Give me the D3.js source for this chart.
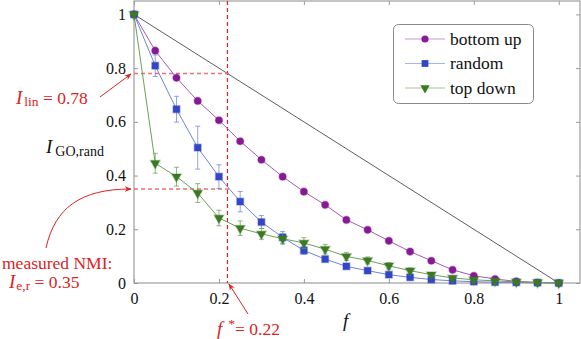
<!DOCTYPE html>
<html>
<head>
<meta charset="utf-8">
<script src="https://cdn.jsdelivr.net/npm/d3@7"></script>
<style>
  body { margin: 0; background: #fff; }
  svg text { font-family: "Liberation Serif", "DejaVu Serif", serif !important; }
</style>
</head>
<body>
<svg id="chart" width="581" height="339"></svg>
<script>
// fraction of edges f
var fValues = [0, 0.05, 0.1, 0.15, 0.2, 0.25, 0.3, 0.35, 0.4, 0.45, 0.5,
               0.55, 0.6, 0.65, 0.7, 0.75, 0.8, 0.85, 0.9, 0.95, 1];

var bottomUp = [1, 0.865, 0.764, 0.678, 0.606, 0.528, 0.459, 0.396, 0.34, 0.291, 0.235,
                0.198, 0.157, 0.117, 0.083, 0.049, 0.027, 0.015, 0.006, 0.002, 0];

var random = [1, 0.809, 0.647, 0.504, 0.396, 0.303, 0.227, 0.17, 0.121, 0.089, 0.062,
              0.046, 0.031, 0.021, 0.013, 0.008, 0.005, 0.003, 0.002, 0.001, 0];
var randomErr = [0, 0.04, 0.048, 0.08, 0.044, 0.038, 0.024, 0.022, 0.014, 0.01, 0.008,
                 0.007, 0.006, 0.005, 0.004, 0.003, 0.003, 0.002, 0.002, 0.001, 0];

var topDown = [1, 0.446, 0.396, 0.335, 0.242, 0.204, 0.183, 0.165, 0.149, 0.126, 0.099,
               0.084, 0.064, 0.046, 0.031, 0.019, 0.012, 0.008, 0.004, 0.002, 0];
var topDownErr = [0, 0.037, 0.035, 0.035, 0.029, 0.027, 0.02, 0.02, 0.02, 0.018, 0.015,
                  0.013, 0.012, 0.01, 0.008, 0.006, 0.005, 0.004, 0.003, 0.002, 0];

var tickValues = [0, 0.2, 0.4, 0.6, 0.8, 1];
var tickLabels = ["0", "0.2", "0.4", "0.6", "0.8", "1"];

var iLin = 0.78, iMeasured = 0.35, fStar = 0.22;

var svg = d3.select("#chart");
var x = d3.scaleLinear().domain([0, 1.05]).range([134, 580]);
var y = d3.scaleLinear().domain([0, 1.05]).range([283, 1]);
var red = "#dd2222";

// frame
svg.append("rect")
    .attr("x", x(0)).attr("y", y(1.05))
    .attr("width", x(1.05) - x(0)).attr("height", y(0) - y(1.05))
    .attr("fill", "none").attr("stroke", "#8a8a8a").attr("stroke-width", 1);

// ticks on all four sides, pointing inwards
var fmt = function (d, i) { return tickLabels[i]; };
function styleAxis(g) {
    g.select(".domain").remove();
    g.selectAll(".tick line").attr("stroke", "#9a9a9a");
    g.selectAll(".tick text").attr("font-size", 16).attr("fill", "#111");
}
svg.append("g").attr("transform", "translate(0," + y(0) + ")")
    .call(d3.axisBottom(x).tickValues(tickValues).tickFormat(fmt).tickSizeInner(-4).tickPadding(10))
    .call(styleAxis);
svg.append("g").attr("transform", "translate(0," + y(1.05) + ")")
    .call(d3.axisTop(x).tickValues(tickValues).tickFormat("").tickSizeInner(-4))
    .call(styleAxis);
svg.append("g").attr("transform", "translate(" + x(0) + ",0)")
    .call(d3.axisLeft(y).tickValues(tickValues).tickFormat(fmt).tickSizeInner(-4).tickPadding(8))
    .call(styleAxis);
svg.append("g").attr("transform", "translate(" + x(1.05) + ",0)")
    .call(d3.axisRight(y).tickValues(tickValues).tickFormat("").tickSizeInner(-4))
    .call(styleAxis);

// linear reference line
svg.append("line")
    .attr("x1", x(0)).attr("y1", y(1)).attr("x2", x(1)).attr("y2", y(0))
    .attr("stroke", "#333").attr("stroke-width", 0.8);

// dashed guides
svg.append("line")
    .attr("x1", x(fStar)).attr("x2", x(fStar)).attr("y1", y(1.05)).attr("y2", y(0))
    .attr("stroke", red).attr("stroke-width", 1.2).attr("stroke-dasharray", "4,3");
[iLin, iMeasured].forEach(function (v) {
    svg.append("line")
        .attr("x1", x(0)).attr("x2", x(fStar) + 2).attr("y1", y(v)).attr("y2", y(v))
        .attr("stroke", "#ec7070").attr("stroke-width", 1.3).attr("stroke-dasharray", "4,3");
});

var series = [
    { name: "bottom up", values: bottomUp, err: null, mark: "circle", color: "#861a94", line: "#a55aae" },
    { name: "random", values: random, err: randomErr, mark: "square", color: "#3346c8", line: "#7081de" },
    { name: "top down", values: topDown, err: topDownErr, mark: "triangle", color: "#3b7a22", line: "#6e9e5c" }
];

var symbols = {
    circle: d3.symbol().type(d3.symbolCircle).size(40),
    square: d3.symbol().type(d3.symbolSquare).size(46),
    triangle: d3.symbol().type(d3.symbolTriangle).size(38)
};

var line = d3.line().x(function (d) { return x(d[0]); }).y(function (d) { return y(d[1]); });

series.forEach(function (s) {
    var pts = fValues.map(function (f, i) { return [f, s.values[i], s.err ? s.err[i] : 0]; });
    svg.append("path").datum(pts).attr("d", line)
        .attr("fill", "none").attr("stroke", s.line).attr("stroke-width", 1);
    if (s.err) {
        var eb = svg.append("g").attr("stroke", s.line).attr("stroke-opacity", 0.75).attr("stroke-width", 1);
        pts.filter(function (d) { return d[2] > 0.004; }).forEach(function (d) {
            eb.append("line").attr("x1", x(d[0])).attr("x2", x(d[0]))
                .attr("y1", y(d[1] - d[2])).attr("y2", y(d[1] + d[2]));
            [d[1] - d[2], d[1] + d[2]].forEach(function (v) {
                eb.append("line").attr("x1", x(d[0]) - 2.5).attr("x2", x(d[0]) + 2.5)
                    .attr("y1", y(v)).attr("y2", y(v));
            });
        });
    }
    svg.append("g").selectAll("path").data(pts).join("path")
        .attr("d", symbols[s.mark])
        .attr("transform", function (d) {
            return "translate(" + x(d[0]) + "," + y(d[1]) + ")" + (s.mark === "triangle" ? " rotate(180)" : "");
        })
        .attr("fill", s.color).attr("stroke", s.color).attr("stroke-opacity", 0.35).attr("stroke-width", 1.5);
});

// legend
var lg = svg.append("g");
lg.append("rect").attr("x", 393.5).attr("y", 24.5).attr("width", 140).attr("height", 79).attr("rx", 5)
    .attr("fill", "#fff").attr("stroke", "#888");
series.forEach(function (s, i) {
    var ly = 39 + i * 24.5;
    lg.append("line").attr("x1", 405).attr("x2", 445).attr("y1", ly).attr("y2", ly)
        .attr("stroke", s.line).attr("stroke-opacity", 0.6).attr("stroke-width", 1.2);
    lg.append("path").attr("d", symbols[s.mark])
        .attr("transform", "translate(425," + ly + ")" + (s.mark === "triangle" ? " rotate(180)" : ""))
        .attr("fill", s.color);
    lg.append("text").attr("x", 450).attr("y", ly + 5.5).attr("font-size", 17.5).attr("fill", "#111").text(s.name);
});

// axis labels
var yl = svg.append("text").attr("x", 46).attr("y", 153).attr("fill", "#111");
yl.append("tspan").attr("font-style", "italic").attr("font-size", 19).text("I");
yl.append("tspan").attr("font-size", 14).attr("dx", 3).attr("dy", 3).text("GO,rand");

svg.append("text").attr("x", 343).attr("y", 327).attr("font-style", "italic")
    .attr("font-size", 19).attr("fill", "#111").text("f");

// annotations
svg.append("defs").append("marker").attr("id", "arr")
    .attr("viewBox", "0 0 10 10").attr("refX", 9).attr("refY", 5)
    .attr("markerWidth", 7).attr("markerHeight", 7).attr("orient", "auto-start-reverse")
    .append("path").attr("d", "M0,1 L10,5 L0,9 L3,5 Z").attr("fill", red);

var t1 = svg.append("text").attr("x", 16).attr("y", 104).attr("fill", red).attr("font-size", 17.5);
t1.append("tspan").attr("font-style", "italic").attr("font-size", 19).text("I");
t1.append("tspan").attr("font-size", 13.5).attr("dx", 2).attr("dy", 2).text("lin");
t1.append("tspan").attr("dy", -2).text(" = 0.78");
svg.append("line").attr("x1", 100).attr("y1", 97).attr("x2", x(0) - 3).attr("y2", y(iLin) + 0.5)
    .attr("stroke", red).attr("stroke-width", 1).attr("marker-end", "url(#arr)");

svg.append("text").attr("x", 2).attr("y", 269).attr("fill", red).attr("font-size", 17.5).text("measured NMI:");
var t2 = svg.append("text").attr("x", 9).attr("y", 288).attr("fill", red).attr("font-size", 17.5);
t2.append("tspan").attr("font-style", "italic").attr("font-size", 19).text("I");
t2.append("tspan").attr("font-size", 13.5).attr("dx", 1).attr("dy", 2).text("e,r");
t2.append("tspan").attr("dy", -2).text(" = 0.35");
svg.append("path")
    .attr("d", "M46,248 C55,208 80," + y(iMeasured) + " " + (x(0) - 3) + "," + y(iMeasured))
    .attr("fill", "none").attr("stroke", red).attr("stroke-width", 1).attr("marker-end", "url(#arr)");

var t3 = svg.append("text").attr("x", 217).attr("y", 335).attr("fill", red).attr("font-size", 17.5);
t3.append("tspan").attr("font-style", "italic").attr("font-size", 19).text("f");
t3.append("tspan").attr("font-size", 13.5).attr("dx", 6).attr("dy", -7).text("*");
t3.append("tspan").attr("dy", 7).text("= 0.22");
svg.append("line").attr("x1", 248).attr("y1", 314).attr("x2", x(fStar) + 1.5).attr("y2", y(0) + 1)
    .attr("stroke", red).attr("stroke-width", 1).attr("marker-end", "url(#arr)");
</script>
</body>
</html>
